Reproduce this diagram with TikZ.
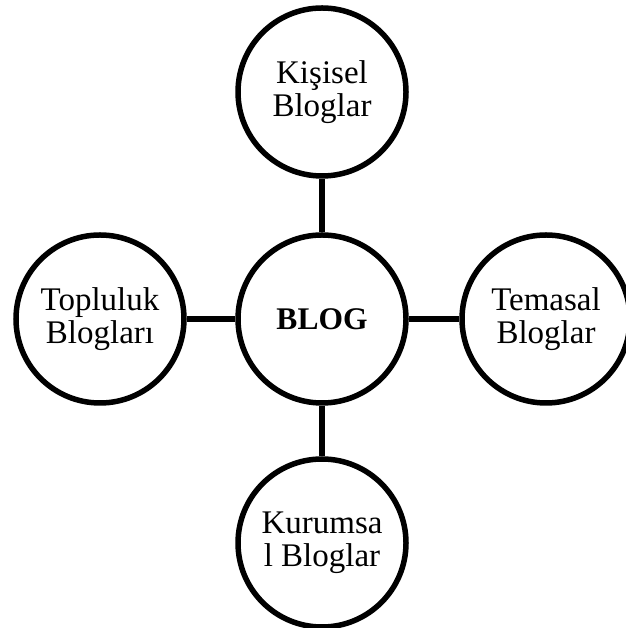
\documentclass[tikz,border=0pt]{standalone}
\usepackage{fontspec}
\setmainfont{Liberation Serif}
\begin{document}
\begin{tikzpicture}[x=1pt,y=1pt,
  blob/.style={circle,draw,line width=5.5pt,minimum size=168pt,inner sep=0pt,
    align=center,font=\fontsize{33}{33}\selectfont},
  spoke/.style={line width=5.5pt}]
  \useasboundingbox (0,0) rectangle (625,628);

  % Centre circle
  \node[blob,font=\fontsize{31.5}{33}\selectfont\bfseries] (blog) at (322,309) {BLOG};

  % Outer circles
  \node[blob] (kisisel)  at (322,536) {Kişisel\\Bloglar};
  \node[blob] (temasal)  at (546,309) {Temasal\\Bloglar};
  \node[blob] (kurumsal) at (322,85)  {Kurumsa\\l Bloglar};
  \node[blob] (topluluk) at (100,309) {Topluluk\\Blogları};

  % Spokes
  \foreach \n in {kisisel,temasal,kurumsal,topluluk}
    \draw[spoke] (blog) -- (\n);
\end{tikzpicture}
\end{document}
